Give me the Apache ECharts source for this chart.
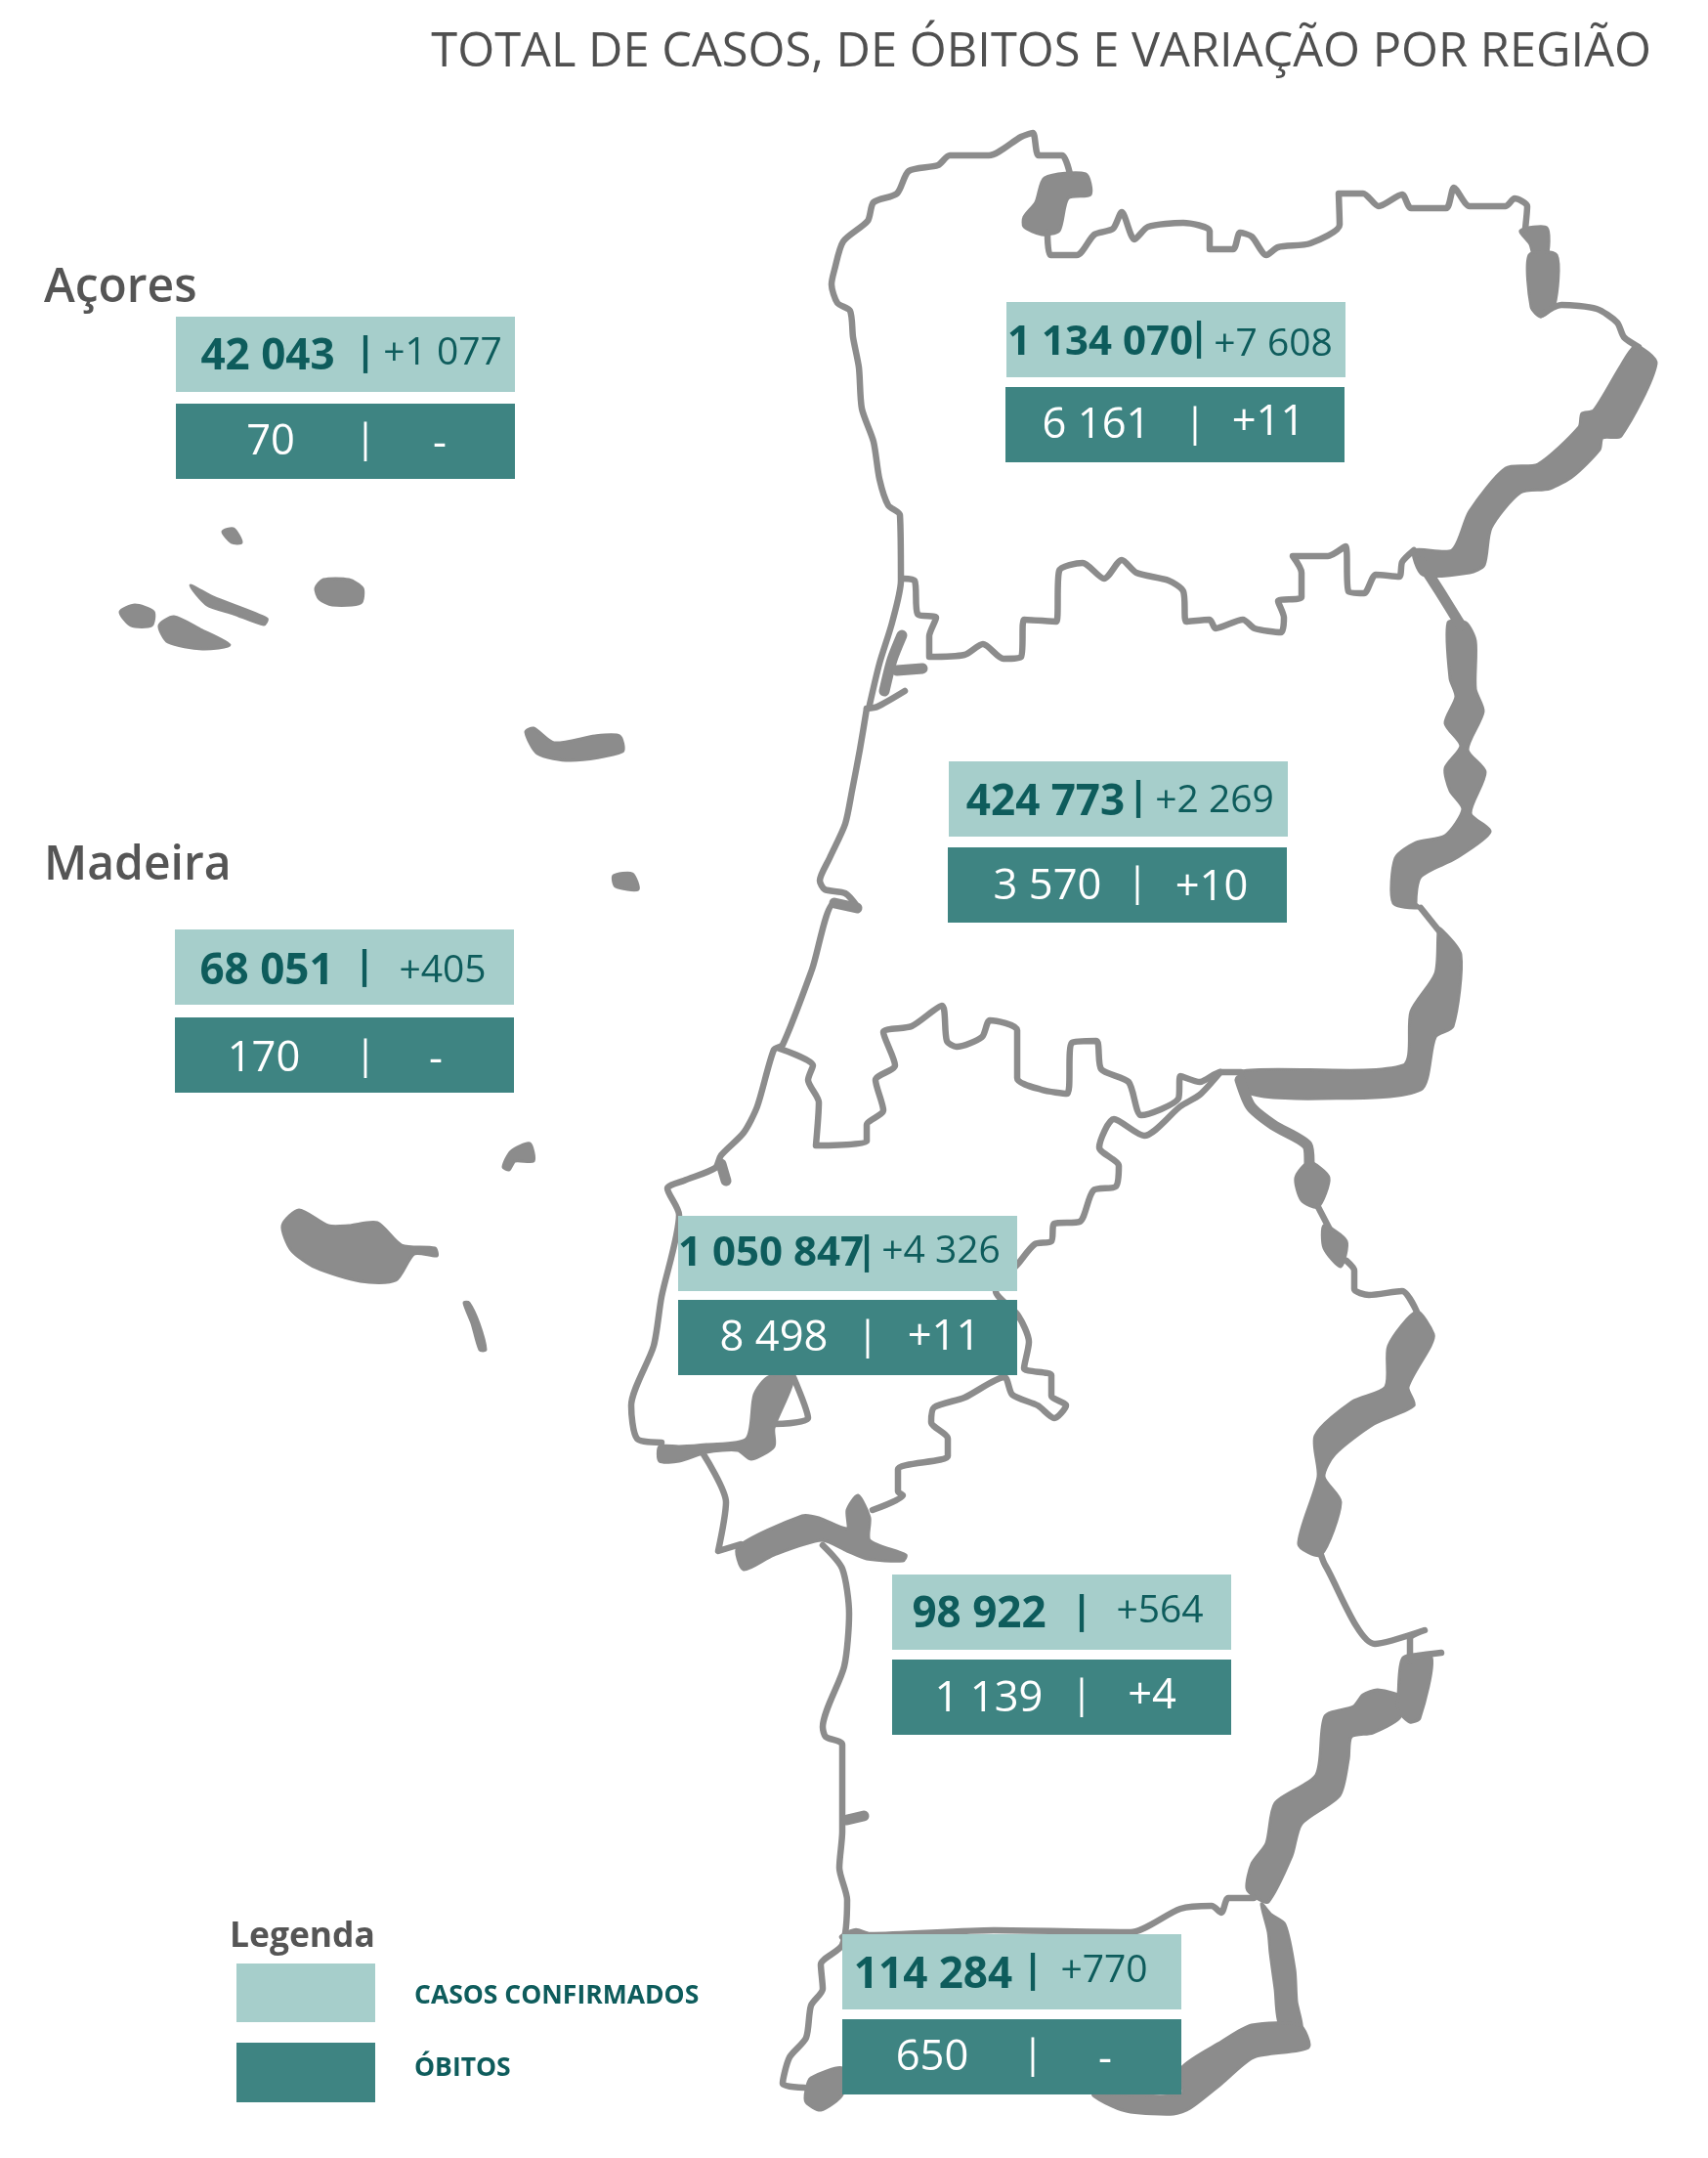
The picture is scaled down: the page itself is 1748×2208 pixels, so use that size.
<!DOCTYPE html>
<html>
<head>
<meta charset="utf-8">
<title>Total de casos, de óbitos e variação por região</title>
<script src="https://cdn.jsdelivr.net/npm/echarts@6/dist/echarts.min.js"></script>
<style>
  html, body { margin: 0; padding: 0; background: #fff; }
  #chart { width: 1748px; height: 2208px; }
</style>
</head>
<body>
<div id="chart"></div>
<script>
// dados por região
const regioes = ['Norte', 'Centro', 'LVT', 'Alentejo', 'Algarve', 'Açores', 'Madeira'];
const casos = [1134070, 424773, 1050847, 98922, 114284, 42043, 68051];
const casosVar = [7608, 2269, 4326, 564, 770, 1077, 405];
const obitos = [6161, 3570, 8498, 1139, 650, 70, 170];
const obitosVar = [11, 10, 11, 4, null, null, null];

const legendaItens = ['CASOS CONFIRMADOS', 'ÓBITOS'];

// contorno do mapa (x, y)
const fronteirasFinas = [
  // costa norte
  [[1095,178],[1087,159],[1063,159],[1057,136],[1045,140],[1012,159],[972,159],[960,169],[930,175],[918,198],[894,207],[888,226],[863,247],[854,276],[851,291],[857,310],[870,318],[873,345],[879,376],[882,418],[894,452],[900,490],[909,517],[921,527],[922,594],[913,637],[900,679],[890,721]],
  // fronteira norte (Minho e Trás-os-Montes)
  [[1072,238],[1075,261],[1102,261],[1120,240],[1139,234],[1148,217],[1161,245],[1175,232],[1211,228],[1238,236],[1238,255],[1262,255],[1269,238],[1281,242],[1296,261],[1308,253],[1341,249],[1371,230],[1370,198],[1395,198],[1411,211],[1435,199],[1444,213],[1480,213],[1488,192],[1504,211],[1541,211],[1550,203],[1563,211],[1561,234]],
  [[1577,322],[1598,312],[1634,316],[1655,330],[1662,345],[1677,355]],
  // Norte / Centro
  [[1447,563],[1435,575],[1432,590],[1408,588],[1396,607],[1380,605],[1377,559],[1359,569],[1323,569],[1332,586],[1332,611],[1308,615],[1314,632],[1311,647],[1284,643],[1272,634],[1244,643],[1238,634],[1214,636],[1211,605],[1196,594],[1163,586],[1148,573],[1130,592],[1108,576],[1084,584],[1081,636],[1048,634],[1045,672],[1027,674],[1006,659],[987,670],[951,672],[951,651],[958,632],[939,628],[936,594],[924,592]],
  // ria de Aveiro
  [[926,707],[898,723],[887,725]],
  // costa centro
  [[887,725],[880,767],[872,809],[865,843],[849,878],[839,901],[844,910],[865,914],[877,927],[854,924],[831,992],[801,1069],[792,1074],[775,1132],[761,1159],[738,1182],[732,1195],[700,1208],[683,1216],[695,1243],[677,1327],[669,1377],[646,1438],[652,1472],[677,1476]],
  // Centro / LVT
  [[798,1073],[832,1090],[827,1105],[838,1128],[835,1172],[887,1168],[887,1151],[904,1136],[896,1105],[916,1090],[904,1056],[933,1050],[964,1029],[969,1065],[979,1071],[1005,1061],[1013,1044],[1041,1054],[1041,1103],[1066,1115],[1092,1119],[1097,1067],[1122,1065],[1127,1094],[1155,1107],[1168,1141],[1206,1124],[1208,1101],[1228,1107],[1249,1097],[1270,1097]],
  // LVT / Alentejo
  [[1249,1097],[1228,1120],[1208,1132],[1171,1162],[1140,1145],[1125,1174],[1145,1193],[1142,1214],[1119,1218],[1105,1250],[1079,1252],[1076,1270],[1059,1273],[1042,1293],[1019,1321],[1042,1346],[1053,1373],[1048,1400],[1076,1407],[1076,1428],[1091,1438],[1079,1451],[1062,1438],[1036,1427],[1028,1409],[987,1430],[956,1440],[953,1455],[970,1472],[970,1490],[919,1503],[919,1526],[924,1530],[893,1545]],
  [[812,1409],[827,1451],[792,1457]],
  // costa sul do Tejo e Alentejo
  [[720,1488],[743,1537],[735,1587],[758,1580]],
  [[842,1581],[862,1605],[869,1651],[864,1705],[842,1767],[845,1777],[862,1785],[862,1858],[862,1874],[859,1911],[867,1944],[862,1990],[840,2010],[842,2035],[830,2052],[825,2085],[808,2105],[801,2132],[823,2136]],
  // Alentejo / Algarve
  [[862,1982],[876,1976],[890,1980],[1017,1975],[1157,1977],[1208,1953],[1240,1950],[1250,1957],[1257,1942],[1283,1942]],
  // fronteira leste
  [[1349,1235],[1361,1258]],
  [[1378,1290],[1386,1300],[1386,1319],[1401,1325],[1435,1321],[1450,1342]],
  [[1352,1591],[1356,1601],[1407,1682],[1458,1668],[1443,1676],[1443,1700]],
  [[1443,1696],[1451,1694],[1475,1691]],
  [[1454,929],[1474,954]]
];

// troços médios, com traço mais grosso
const fronteirasMedias = [
  [[923,650],[913,675],[905,707]],
  [[918,686],[944,684]],
  [[738,1191],[743,1208]],
  [[867,1862],[884,1858]],
  [[1454,575],[1474,606],[1495,640]],
  [[1269,1105],[1280,1132],[1303,1151],[1338,1172],[1340,1190]],
  [[854,924],[877,929]]
];

// zonas largas do rio e ilhas, em polígono
const manchas = [
  // rio Minho
  [[1069,182],[1111,178],[1116,199],[1093,203],[1084,236],[1066,240],[1048,232],[1048,222],[1060,207]],
  [[1556,236],[1583,233],[1583,262],[1570,262],[1566,250]],
  [[1565,261],[1593,261],[1591,312],[1577,324],[1567,314]],
  // Douro internacional
  [[1674,354],[1695,372],[1659,446],[1640,448],[1637,460],[1610,487],[1586,500],[1556,504],[1526,540],[1519,578],[1504,586],[1456,588],[1447,563],[1486,563],[1504,523],[1541,479],[1574,475],[1616,437],[1619,423],[1631,420],[1659,374]],
  // Beira Baixa
  [[1482,637],[1484,694],[1490,713],[1479,740],[1495,763],[1479,786],[1484,809],[1497,828],[1479,855],[1449,862],[1428,878],[1426,924],[1454,929],[1449,924],[1454,897],[1490,878],[1525,851],[1505,832],[1520,790],[1502,767],[1518,728],[1510,705],[1510,656],[1500,637]],
  [[1472,954],[1469,996],[1444,1035],[1436,1090],[1270,1096],[1280,1119],[1352,1124],[1454,1115],[1469,1061],[1487,1050],[1495,977],[1474,950]],
  // Alentejo leste
  [[1340,1189],[1360,1205],[1349,1235],[1332,1228],[1326,1205]],
  [[1355,1254],[1378,1270],[1372,1296],[1355,1277]],
  [[1450,1342],[1467,1365],[1464,1377],[1441,1419],[1447,1438],[1406,1457],[1366,1488],[1355,1511],[1372,1537],[1352,1591],[1329,1580],[1349,1511],[1346,1469],[1384,1434],[1418,1419],[1421,1377]],
  [[1410,1729],[1438,1738],[1432,1758],[1405,1773],[1383,1777],[1380,1800],[1371,1837],[1332,1866],[1322,1899],[1298,1946],[1286,1942],[1276,1932],[1281,1907],[1296,1886],[1305,1845],[1347,1816],[1356,1756],[1385,1746],[1395,1734]],
  [[1431,1734],[1436,1696],[1465,1696],[1453,1758],[1443,1762],[1431,1750]],
  // estuários do Tejo e do Sado
  [[786,1409],[812,1409],[792,1461],[792,1480],[769,1493],[755,1484],[723,1486],[695,1495],[675,1495],[675,1480],[695,1480],[723,1478],[764,1472],[772,1427]],
  [[878,1530],[890,1553],[890,1576],[927,1591],[924,1597],[887,1595],[867,1587],[841,1576],[792,1591],[761,1606],[755,1583],[821,1551],[838,1553],[867,1564],[867,1545]],
  // Algarve
  [[1291,1948],[1298,1977],[1300,1998],[1305,2035],[1310,2072],[1332,2077],[1327,2048],[1325,2015],[1315,1969],[1301,1959]],
  [[1119,2143],[1138,2155],[1157,2161],[1201,2163],[1218,2157],[1250,2132],[1283,2105],[1339,2095],[1330,2072],[1281,2072],[1250,2089],[1209,2116],[1209,2143]],
  [[825,2138],[830,2126],[862,2116],[862,2143],[840,2159],[825,2151]],
  // Açores
  [[228,544],[239,541],[247,555],[237,555]],
  [[195,599],[218,611],[273,633],[270,639],[239,628],[212,619]],
  [[323,602],[331,593],[357,593],[371,602],[369,617],[340,619],[327,613]],
  [[123,626],[138,619],[157,626],[155,640],[134,640]],
  [[163,640],[178,631],[205,644],[235,660],[207,664],[172,657]],
  [[538,749],[546,745],[567,760],[609,753],[634,753],[637,769],[584,778],[550,771]],
  [[628,896],[647,894],[653,910],[630,907]],
  // Madeira
  [[515,1194],[523,1178],[542,1170],[546,1188],[527,1188],[521,1197]],
  [[289,1254],[306,1238],[336,1254],[357,1254],[386,1251],[411,1274],[445,1277],[447,1285],[424,1283],[405,1310],[369,1311],[323,1297],[298,1279]],
  [[475,1333],[480,1333],[490,1354],[497,1381],[491,1381],[483,1354]]
];

// posição das caixas e dos textos de cada região
const caixaLarg = 347;
const caixaAlt = 77;
const posicoes = [
  { claro: [1030, 309], escuro: [1029, 396], tam: 42, casos: [1126, 351], sep1: [1227, 347], cVar: [1303, 353], obitos: [1122, 436], sep2: [1223, 435], oVar: [1298, 433] },
  { claro: [971, 779], escuro: [970, 867], tam: 44, casos: [1070, 821], sep1: [1165, 817], cVar: [1243, 820], obitos: [1072, 908], sep2: [1164, 905], oVar: [1240, 909] },
  { claro: [694, 1244], escuro: [694, 1330], tam: 42, casos: [789, 1283], sep1: [887, 1282], cVar: [963, 1281], obitos: [792, 1370], sep2: [888, 1369], oVar: [966, 1369] },
  { claro: [913, 1611], escuro: [913, 1698], tam: 44, casos: [1002, 1652], sep1: [1107, 1650], cVar: [1187, 1649], obitos: [1012, 1739], sep2: [1107, 1736], oVar: [1179, 1736] },
  { claro: [862, 1979], escuro: [862, 2066], tam: 44, casos: [955, 2021], sep1: [1057, 2017], cVar: [1130, 2017], obitos: [954, 2106], sep2: [1057, 2104], oVar: [1131, 2108] },
  { claro: [180, 324], escuro: [180, 413], tam: 44, casos: [274, 365], sep1: [374, 362], cVar: [453, 362], obitos: [277, 453], sep2: [374, 451], oVar: [450, 455] },
  { claro: [179, 951], escuro: [179, 1041], tam: 44, casos: [273, 994], sep1: [373, 990], cVar: [453, 994], obitos: [270, 1084], sep2: [374, 1082], oVar: [446, 1085] }
];

const legendaPos = [
  { caixa: [242, 2009, 142, 60], texto: [424, 2042] },
  { caixa: [242, 2090, 142, 61], texto: [424, 2116] }
];

const CINZA = '#8c8c8c';
const CLARO = '#a6cecb';
const ESCURO = '#3e8482';
const TEXTO = '#0e5c5c';
const TITULO = '#505050';
const FONTE = '"Open Sans", sans-serif';

// 1134070 -> "1 134 070"
function milhares(n) {
  return String(n).replace(/\B(?=(\d{3})+$)/g, ' ');
}
function variacao(n) {
  return n === null ? '-' : '+' + milhares(n);
}

function texto(api, pos, str, cor, tam, peso) {
  const p = api.coord(pos);
  return {
    type: 'text',
    style: {
      x: p[0], y: p[1], text: str, fill: cor,
      font: peso + ' ' + tam + 'px ' + FONTE,
      textAlign: 'center', textVerticalAlign: 'middle'
    }
  };
}

function retangulo(api, x, y, w, h, cor) {
  const a = api.coord([x, y]);
  const b = api.coord([x + w, y + h]);
  return { type: 'rect', shape: { x: a[0], y: a[1], width: b[0] - a[0], height: b[1] - a[1] }, style: { fill: cor } };
}

const chart = echarts.init(document.getElementById('chart'), null, { renderer: 'canvas' });

const linhas = (lista, largura) => lista.map(pts => ({
  type: 'line',
  data: pts,
  symbol: 'none',
  smooth: 0.25,
  silent: true,
  z: 2,
  lineStyle: { color: CINZA, width: largura, join: 'round', cap: 'round' }
}));

chart.setOption({
  animation: false,
  backgroundColor: '#ffffff',
  title: [
    { text: 'TOTAL DE CASOS, DE ÓBITOS E VARIAÇÃO POR REGIÃO', right: 53, top: 25,
      textStyle: { color: TITULO, fontFamily: FONTE, fontWeight: 400, fontSize: 48.8 } },
    { text: 'Açores', left: 40, top: 266,
      textStyle: { color: '#555555', fontFamily: FONTE, fontWeight: 600, fontSize: 48 } },
    { text: 'Madeira', left: 40, top: 857,
      textStyle: { color: '#555555', fontFamily: FONTE, fontWeight: 600, fontSize: 48 } },
    { text: 'Legenda', left: 230, top: 1959,
      textStyle: { color: '#555555', fontFamily: FONTE, fontWeight: 700, fontSize: 35.4 } }
  ],
  grid: { left: 0, right: 0, top: 0, bottom: 0 },
  xAxis: { type: 'value', min: 0, max: 1748, show: false },
  yAxis: { type: 'value', min: 0, max: 2208, inverse: true, show: false },
  series: [
    ...linhas(fronteirasFinas, 6.5),
    ...linhas(fronteirasMedias, 11),
    {
      // manchas cinzentas
      type: 'custom',
      silent: true,
      z: 2,
      data: manchas.map((m, i) => i),
      renderItem(params, api) {
        const pts = manchas[params.dataIndex].map(p => api.coord(p));
        return { type: 'polygon', shape: { points: pts, smooth: 0.25 }, style: { fill: CINZA, stroke: CINZA, lineWidth: 3, lineJoin: 'round' } };
      }
    },
    {
      // caixas de cada região
      type: 'custom',
      silent: true,
      z: 5,
      data: regioes.map((r, i) => i),
      renderItem(params, api) {
        const i = params.dataIndex;
        const p = posicoes[i];
        return {
          type: 'group',
          children: [
            retangulo(api, p.claro[0], p.claro[1], caixaLarg, caixaAlt, CLARO),
            retangulo(api, p.escuro[0], p.escuro[1], caixaLarg, caixaAlt, ESCURO),
            texto(api, p.casos, milhares(casos[i]), TEXTO, p.tam, 700),
            texto(api, p.sep1, '|', TEXTO, 40, 700),
            texto(api, p.cVar, variacao(casosVar[i]), TEXTO, 39, 400),
            texto(api, p.obitos, milhares(obitos[i]), '#ffffff', 43.5, 400),
            texto(api, p.sep2, '|', '#ffffff', 40, 400),
            texto(api, p.oVar, variacao(obitosVar[i]), '#ffffff', 43.5, 400)
          ]
        };
      }
    },
    {
      // legenda
      type: 'custom',
      silent: true,
      z: 5,
      data: legendaItens.map((l, i) => i),
      renderItem(params, api) {
        const i = params.dataIndex;
        const c = legendaPos[i].caixa;
        const t = api.coord(legendaPos[i].texto);
        return {
          type: 'group',
          children: [
            retangulo(api, c[0], c[1], c[2], c[3], i === 0 ? CLARO : ESCURO),
            { type: 'text', style: { x: t[0], y: t[1], text: legendaItens[i], fill: TEXTO,
              font: '700 26.5px ' + FONTE, textAlign: 'left', textVerticalAlign: 'middle' } }
          ]
        };
      }
    }
  ]
});
</script>
</body>
</html>
